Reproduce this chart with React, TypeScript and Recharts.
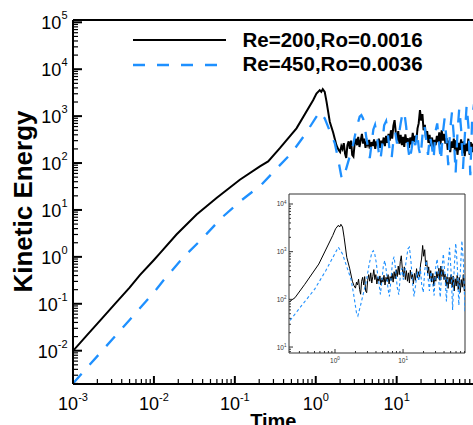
import React from 'react';
import { LineChart, Line, XAxis, YAxis, ReferenceLine, Legend } from 'recharts';

const FONT = '"Liberation Sans", Arial, Helvetica, sans-serif';
const BLUE = '#1E90FF';

const seriesNames = ['Re=200,Ro=0.0016', 'Re=450,Ro=0.0036'];
const xTitle = 'Time';
const yTitle = 'Kinetic Energy';

// Re=200, Ro=0.0016 (black, solid)
const blackTime = [
  0.001, 0.0015, 0.0022, 0.0033, 0.005, 0.0067, 0.01, 0.0119, 0.019, 0.0337, 0.0594, 0.1153, 0.204, 0.258,
  0.36, 0.578, 0.927, 1.02, 1.12, 1.17, 1.22, 1.29, 1.36, 1.49, 1.64, 1.8, 1.9,
  2.0, 2.07, 2.14, 2.22, 2.3, 2.38, 2.46, 2.55, 2.64, 2.73, 2.82, 2.92, 3.02,
  3.13, 3.24, 3.35, 3.47, 3.59, 3.72, 3.85, 3.98, 4.12, 4.27, 4.42, 4.57, 4.73, 4.9,
  5.07, 5.25, 5.43, 5.62, 5.82, 6.02, 6.23, 6.45, 6.68, 6.91, 7.15, 7.4, 7.66, 7.93, 8.21, 8.5, 8.8, 9.1,
  9.42, 9.75, 10.1, 10.45, 10.8, 11.2, 11.6, 12.0, 12.4, 12.8, 13.3, 13.7, 14.2, 14.7,
  15.2, 15.8, 16.3, 16.9, 17.5, 18.1, 18.7, 19.4, 20.1, 20.8, 21.5, 22.3, 23.0, 23.8,
  24.7, 25.5, 26.4, 27.4, 28.3, 29.3, 30.3, 31.4, 32.5, 33.6, 34.8, 36.0,
  37.3, 38.6, 40.0, 41.4, 42.8, 44.3, 45.9, 47.5, 49.1, 50.8, 52.6,
  54.5, 56.4, 58.3, 60.4, 62.5, 64.7, 66.9, 69.3, 71.7, 74.2, 76.8, 79.5, 82.3, 85.1, 88.1,
];
const blackEnergy = [
  0.0099, 0.0217, 0.0453, 0.0993, 0.221, 0.41, 0.86, 1.2, 3.0, 8.0, 18, 44, 85, 108,
  207, 550, 2190, 3020, 3575, 3290, 3750, 3290, 2020, 760, 450, 240, 195,
  172, 230, 200, 265, 160, 128, 240, 290, 200, 300, 150, 138, 250,
  330, 240, 360, 220, 300, 420, 260, 330, 210, 290, 240, 310, 200, 280,
  230, 320, 200, 290, 240, 330, 210, 300, 250, 350, 230, 380, 270, 420, 300, 500, 330, 620,
  820, 450, 300, 480, 260, 400, 240, 360, 220, 410, 270, 340, 210, 350,
  250, 440, 280, 380, 300, 550, 700, 1350, 800, 1100, 500, 650, 340, 480,
  270, 400, 230, 350, 190, 310, 240, 380, 280, 450, 250, 500,
  300, 420, 260, 340, 190, 300, 170, 290, 210, 330, 180,
  310, 150, 270, 190, 320, 160, 290, 140, 260, 180, 330, 150, 280, 170, 260,
];

// Re=450, Ro=0.0036 (blue, dashed)
const blueTime = [
  0.001, 0.0015, 0.0022, 0.0033, 0.005, 0.0067, 0.01, 0.013, 0.023, 0.0388, 0.0686, 0.121, 0.214, 0.327,
  0.501, 0.731, 1.02, 1.12, 1.29, 1.56, 1.72, 1.88, 2.07, 2.17, 2.39, 2.63, 2.89, 3.18, 3.49, 3.66, 3.84,
  4.03, 4.23, 4.43, 4.65, 4.9, 5.15, 5.4, 5.7, 6.0, 6.3, 6.65, 7.0, 7.4, 7.8, 8.2, 8.65, 9.1, 9.6, 10.1,
  10.6, 11.2, 11.8, 12.4, 13.1, 13.8, 14.5, 15.3, 16.1, 17.0, 17.9, 18.8, 19.8, 20.9, 22.0, 23.2, 24.4,
  25.7, 27.1, 28.6, 30.1, 31.7, 33.4, 35.2, 37.1, 39.1, 41.2, 43.4, 45.7, 48.2, 50.8, 53.5, 56.4, 59.4,
  62.6, 66.0, 69.5, 73.2, 77.1, 81.3, 85.7, 90.3,
];
const blueEnergy = [
  0.002, 0.0044, 0.0092, 0.0203, 0.0453, 0.08, 0.175, 0.31, 0.97, 2.37, 6.8, 16.1, 34.7, 75.7,
  162, 398, 971, 1240, 897, 398, 264, 127, 52, 45, 78, 138, 244, 550, 971, 1050, 893,
  600, 337, 212, 127, 260, 520, 650, 380, 170, 115, 260, 640, 780, 400, 180, 125, 300, 450, 260,
  380, 700, 1150, 1250, 600, 220, 115, 200, 380, 240, 470, 200, 140, 420, 650, 300, 150,
  380, 240, 120, 460, 700, 260, 110, 420, 900, 330, 90, 480, 1200, 380, 60, 450, 1500,
  520, 75, 380, 1700, 600, 55, 900, 1800,
];

const blackData = blackTime.map((t, i) => ({ t, e: blackEnergy[i] }));
const blueData = blueTime.map((t, i) => ({ t, e: blueEnergy[i] }));

// axes
const X_MIN = 1e-3;
const X_MAX = 1e2;
const Y_MIN = 0.00195;
const Y_MAX = 112000;
const mainXDecades = [1e-3, 1e-2, 1e-1, 1, 10];
const mainYDecades = [1e-3, 1e-2, 1e-1, 1, 10, 100, 1e3, 1e4, 1e5];
const INSET_X_MIN = 0.211;
const INSET_X_MAX = 81.3;
const INSET_Y_MIN = 7.5;
const INSET_Y_MAX = 16200;
const insetXDecades = [0.1, 1, 10];
const insetYDecades = [1, 10, 100, 1000, 10000];
const minorMultipliers = [2, 3, 4, 5, 6, 7, 8, 9];

const isPow10 = (v: number) => {
  const l = Math.log10(v);
  return Math.abs(l - Math.round(l)) < 1e-9;
};
const withMinor = (decades: number[], lo: number, hi: number) => {
  const out: number[] = [];
  decades.forEach((d) => {
    out.push(d);
    minorMultipliers.forEach((m) => out.push(+(d * m).toPrecision(6)));
  });
  return out.filter((v) => v >= lo && v <= hi).sort((a, b) => a - b);
};

const mainXTicks = withMinor(mainXDecades, X_MIN, 99);
const mainYTicks = withMinor(mainYDecades, Y_MIN, Y_MAX);
const insetXTicks = withMinor(insetXDecades, INSET_X_MIN, INSET_X_MAX);
const insetYTicks = withMinor(insetYDecades, INSET_Y_MIN, INSET_Y_MAX);

const MainXTick = (p: any) => {
  const { x, y, payload } = p;
  const v = payload.value;
  const major = isPow10(v);
  return (
    <g>
      <line x1={x} x2={x} y1={y} y2={y - (major ? 8 : 5)} stroke="#000" strokeWidth={major ? 2 : 1.2} />
      {major && (
        <text x={x} y={y + 25.5} textAnchor="middle" fontSize={18} fontFamily={FONT} fill="#000">
          10
          <tspan dy={-9} fontSize={11}>
            {Math.round(Math.log10(v))}
          </tspan>
        </text>
      )}
    </g>
  );
};

const MainYTick = (p: any) => {
  const { x, y, payload } = p;
  const v = payload.value;
  const major = isPow10(v);
  return (
    <g>
      <line x1={x} x2={x + (major ? 9 : 5)} y1={y} y2={y} stroke="#000" strokeWidth={major ? 2 : 1.2} />
      {major && (
        <text x={x - 5.5} y={y + 7} textAnchor="end" fontSize={18} fontFamily={FONT} fill="#000">
          10
          <tspan dy={-10} fontSize={11}>
            {Math.round(Math.log10(v))}
          </tspan>
        </text>
      )}
    </g>
  );
};

const InsetXTick = (p: any) => {
  const { x, y, payload } = p;
  const v = payload.value;
  const major = isPow10(v);
  return (
    <g>
      <line x1={x} x2={x} y1={y} y2={y - (major ? 4 : 2)} stroke="#333" strokeWidth={1} />
      {major && (
        <text x={x} y={y + 10} textAnchor="middle" fontSize={6.5} fontFamily={FONT} fill="#333">
          10
          <tspan dy={-3} fontSize={4.5}>
            {Math.round(Math.log10(v))}
          </tspan>
        </text>
      )}
    </g>
  );
};

const InsetYTick = (p: any) => {
  const { x, y, payload } = p;
  const v = payload.value;
  const major = isPow10(v);
  return (
    <g>
      <line x1={x} x2={x + (major ? 4 : 2)} y1={y} y2={y} stroke="#333" strokeWidth={1} />
      {major && (
        <text x={x - 2.5} y={y + 2.5} textAnchor="end" fontSize={6.5} fontFamily={FONT} fill="#333">
          10
          <tspan dy={-2.7} fontSize={4.5}>
            {Math.round(Math.log10(v))}
          </tspan>
        </text>
      )}
    </g>
  );
};

const YTitle = (props: any) => {
  const vb = props.viewBox || { x: 0, y: 20, width: 73, height: 364 };
  const cx = vb.x + vb.width - 41.3;
  const cy = vb.y + vb.height / 2 - 0.5;
  return (
    <text
      x={cx}
      y={cy}
      transform={`rotate(-90 ${cx} ${cy})`}
      textAnchor="middle"
      fontSize={26}
      fontWeight="bold"
      fontFamily={FONT}
      fill="#000"
    >
      {yTitle}
    </text>
  );
};

const XTitle = (props: any) => {
  const vb = props.viewBox || { x: 73, y: 384, width: 405, height: 56 };
  return (
    <text
      x={vb.x + vb.width / 2 - 2}
      y={vb.y + 44}
      textAnchor="middle"
      fontSize={20}
      fontWeight="bold"
      fontFamily={FONT}
      fill="#000"
    >
      {xTitle}
    </text>
  );
};

const renderLegend = () => (
  <svg width={473} height={90} style={{ display: 'block', overflow: 'visible' }}>
    <line x1={133} x2={226} y1={40} y2={40} stroke="#000" strokeWidth={2} />
    <line x1={133} x2={217} y1={65} y2={65} stroke={BLUE} strokeWidth={2.3} strokeDasharray="12 12" />
    <text x={242.5} y={46.7} fontSize={20.5} fontWeight="bold" fontFamily={FONT} fill="#000">
      {seriesNames[0]}
    </text>
    <text x={242.5} y={70.7} fontSize={20.5} fontWeight="bold" fontFamily={FONT} fill="#000">
      {seriesNames[1]}
    </text>
  </svg>
);

export default function App() {
  return (
    <div
      style={{
        position: 'fixed',
        left: 0,
        top: 0,
        width: 473,
        height: 425,
        overflow: 'hidden',
        background: '#fff',
      }}
    >
      <LineChart width={490} height={440} margin={{ top: 20, right: 12.4, bottom: 0, left: 0 }}>
        <XAxis
          dataKey="t"
          type="number"
          scale="log"
          domain={[X_MIN, X_MAX]}
          allowDataOverflow
          ticks={mainXTicks}
          interval={0}
          height={56}
          tickSize={0}
          tickMargin={0}
          tickLine={false}
          axisLine={{ stroke: '#000', strokeWidth: 2 }}
          tick={(p: any) => <MainXTick {...p} />}
          label={<XTitle />}
        />
        <YAxis
          type="number"
          scale="log"
          domain={[Y_MIN, Y_MAX]}
          allowDataOverflow
          ticks={mainYTicks}
          interval={0}
          width={73}
          tickSize={0}
          tickMargin={0}
          tickLine={false}
          axisLine={{ stroke: '#000', strokeWidth: 2 }}
          tick={(p: any) => <MainYTick {...p} />}
          label={<YTitle />}
        />
        <ReferenceLine y={Y_MAX} stroke="#000" strokeWidth={2} ifOverflow="visible" />
        <Line
          data={blackData}
          dataKey="e"
          name={seriesNames[0]}
          type="linear"
          stroke="#000"
          strokeWidth={2}
          dot={false}
          isAnimationActive={false}
        />
        <Line
          data={blueData}
          dataKey="e"
          name={seriesNames[1]}
          type="linear"
          stroke={BLUE}
          strokeWidth={2.3}
          strokeDasharray="13 12"
          dot={false}
          isAnimationActive={false}
        />
        <Legend
          layout="vertical"
          align="center"
          verticalAlign="middle"
          wrapperStyle={{ position: 'absolute', left: 0, top: 0, width: 473, height: 90 }}
          content={renderLegend}
        />
      </LineChart>

      <div style={{ position: 'absolute', left: 268, top: 193, background: '#fff', width: 198, height: 176 }}>
        <LineChart width={198} height={176} margin={{ top: 1, right: 1, bottom: 0, left: 0 }}>
          <XAxis
            dataKey="t"
            type="number"
            scale="log"
            domain={[INSET_X_MIN, INSET_X_MAX]}
            allowDataOverflow
            ticks={insetXTicks}
            interval={0}
            height={16}
            tickSize={0}
            tickMargin={0}
            tickLine={false}
            axisLine={{ stroke: '#333', strokeWidth: 1 }}
            tick={(p: any) => <InsetXTick {...p} />}
          />
          <YAxis
            type="number"
            scale="log"
            domain={[INSET_Y_MIN, INSET_Y_MAX]}
            allowDataOverflow
            ticks={insetYTicks}
            interval={0}
            width={21}
            tickSize={0}
            tickMargin={0}
            tickLine={false}
            axisLine={{ stroke: '#333', strokeWidth: 1 }}
            tick={(p: any) => <InsetYTick {...p} />}
          />
          <ReferenceLine y={INSET_Y_MAX} stroke="#333" strokeWidth={1} ifOverflow="visible" />
          <ReferenceLine x={INSET_X_MAX} stroke="#333" strokeWidth={1} ifOverflow="visible" />
          <Line
            data={blackData}
            dataKey="e"
            type="linear"
            stroke="#000"
            strokeWidth={1}
            dot={false}
            isAnimationActive={false}
          />
          <Line
            data={blueData}
            dataKey="e"
            type="linear"
            stroke={BLUE}
            strokeWidth={1.1}
            strokeDasharray="3 2.5"
            dot={false}
            isAnimationActive={false}
          />
        </LineChart>
      </div>
    </div>
  );
}
